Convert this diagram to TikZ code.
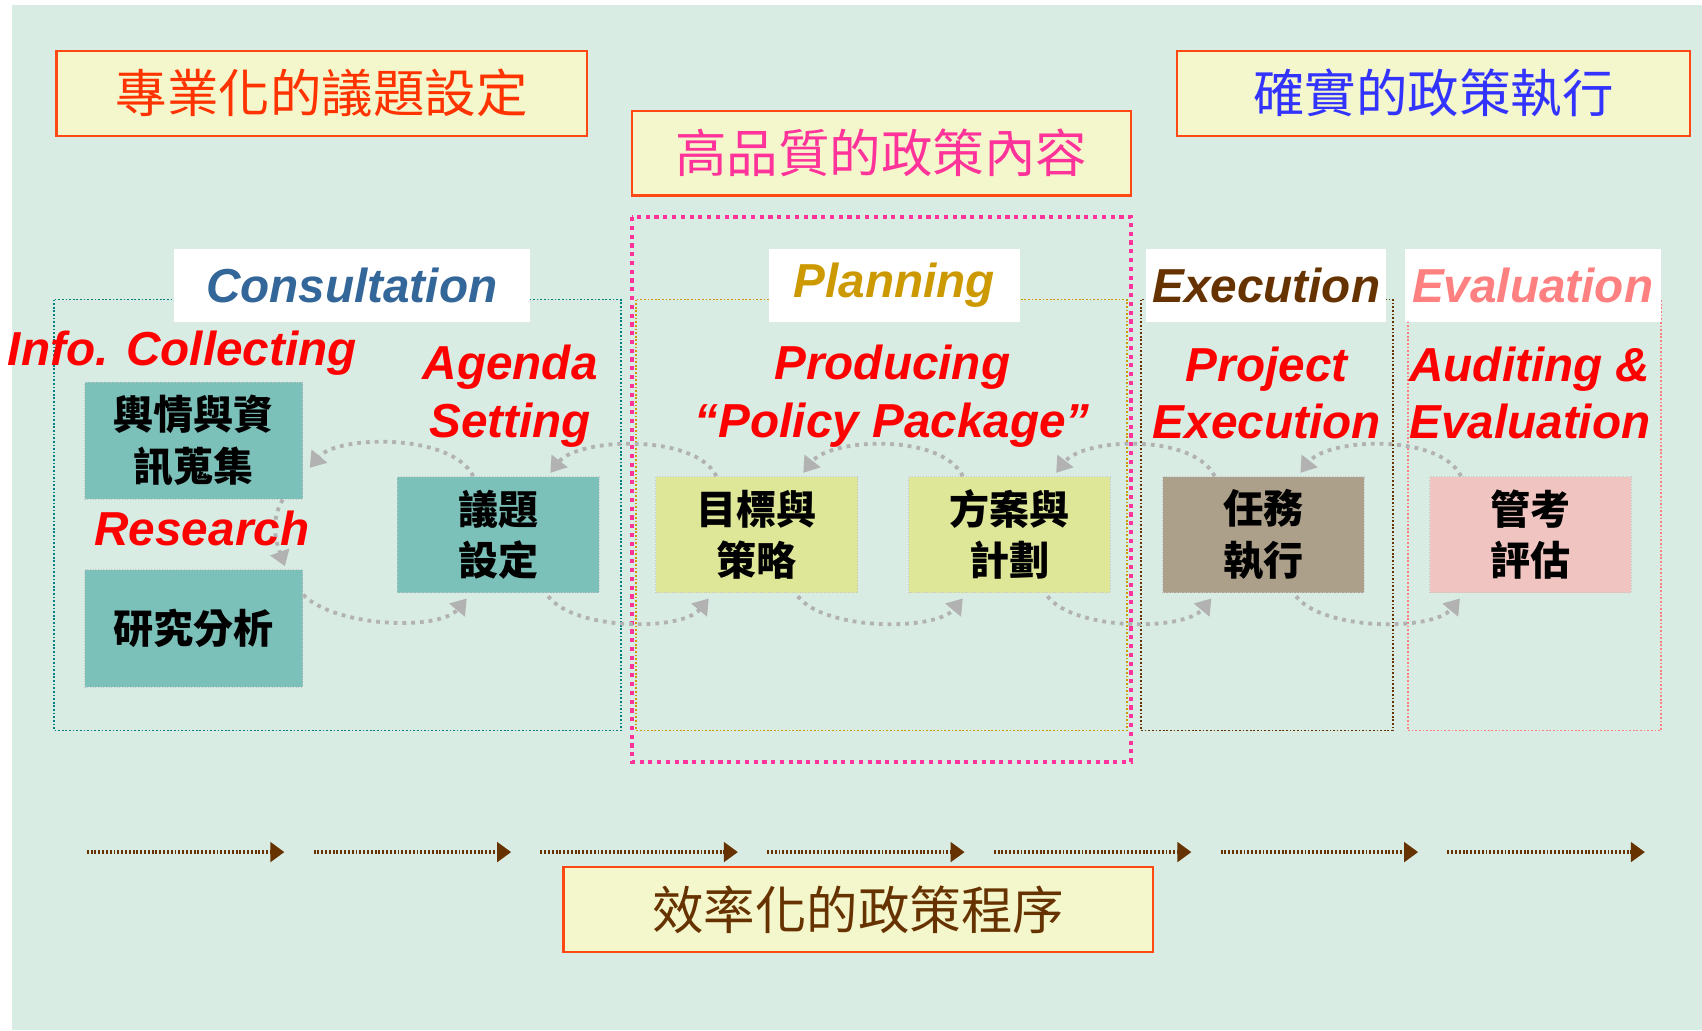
\documentclass[tikz,border=0pt]{standalone}
\usepackage{fontspec}
\setmainfont{Liberation Sans}
\newfontfamily\cjk{Noto Sans CJK TC}
\usetikzlibrary{arrows.meta}

\definecolor{bgmint}{RGB}{216,236,228}
\definecolor{titlefill}{RGB}{244,246,204}
\definecolor{titleline}{RGB}{255,72,20}
\definecolor{tealbox}{RGB}{124,192,186}
\definecolor{yellowbox}{RGB}{222,230,152}
\definecolor{taupebox}{RGB}{172,160,138}
\definecolor{pinkbox}{RGB}{240,196,192}
\definecolor{consblue}{RGB}{51,102,153}
\definecolor{plangold}{RGB}{204,153,0}
\definecolor{execbrown}{RGB}{102,51,0}
\definecolor{evalpink}{RGB}{255,128,128}
\definecolor{hotpink}{RGB}{255,51,153}
\definecolor{frameteal}{RGB}{0,128,128}

\begin{document}
\begin{tikzpicture}[x=0.02cm, y=-0.02cm,
    title/.style={draw=titleline, line width=1.2pt, fill=titlefill, minimum height=1.56cm, inner sep=0pt, font=\cjk\fontsize{27}{30}\selectfont},
    tab/.style={fill=white, minimum height=1.36cm, inner sep=0pt, font=\bfseries\itshape\fontsize{25}{30}\selectfont},
    phase/.style={text=red, font=\bfseries\itshape\fontsize{25}{30}\selectfont, align=center, inner sep=0pt},
    cbox/.style={draw=gray!45, densely dotted, minimum width=3.72cm, minimum height=2.14cm, inner sep=0pt, align=center, font=\cjk\bfseries\fontsize{21}{27}\selectfont},
    frame/.style={densely dotted, line width=0.9pt},
    fb/.style={gray!60, line width=2pt, dash pattern=on 2pt off 2.6pt, -{Triangle[length=0.28cm,width=0.36cm]}},
    flow/.style={execbrown, line width=2.1pt, dash pattern=on 1pt off 1pt, -{Triangle[length=0.26cm,width=0.36cm]}}]
        \useasboundingbox (0,0) rectangle (1568,949);
        \fill[white] (0,0) rectangle (1568,949);
        \fill[bgmint] (11,5) rectangle (1568,949);

        % phase frames
        \draw[frame, frameteal] (50,276) rectangle (572,673);
        \draw[frame, plangold] (586,276) rectangle (1038,673);
        \draw[frame, execbrown] (1051,276) rectangle (1283,673);
        \draw[frame, evalpink] (1297,276) rectangle (1530,673);
        \draw[hotpink, line width=2.2pt, dash pattern=on 2.2pt off 2.4pt] (582,200) rectangle (1042,702);

        % phase tabs
        \node[tab, minimum width=6.56cm, text=consblue] (cons) at (324,263) {Consultation};
        \node[tab, minimum width=4.64cm, text=plangold] (planning) at (824,263) {Planning};
        \node[tab, minimum width=4.42cm, text=execbrown] (execution) at (1166.5,263) {Execution};
        \node[tab, minimum width=4.72cm, text=evalpink] (evaluation) at (1412,263) {Evaluation};

        % titles
        \node[title, minimum width=9.78cm, text={rgb,255:red,255;green,51;blue,0}] (prof) at (296.5,86) {專業化的議題設定};
        \node[title, minimum width=9.2cm, text=hotpink] (quality) at (812,141) {高品質的政策內容};
        \node[title, minimum width=9.46cm, text={rgb,255:red,51;green,51;blue,255}] (firm) at (1320.5,86) {確實的政策執行};
        \node[title, minimum width=10.86cm, text=execbrown] (effic) at (790.5,838) {效率化的政策程序};

        % steps
        \node[cbox, fill=tealbox, minimum width=4.02cm, minimum height=2.16cm] (info) at (178.5,406) {輿情與資\\訊蒐集};
        \node[cbox, fill=tealbox, minimum width=4.02cm, minimum height=2.16cm] (research) at (178.5,579) {研究分析};
        \node[cbox, fill=tealbox] (agenda) at (459,492.5) {議題\\設定};
        \node[cbox, fill=yellowbox] (goal) at (697,492.5) {目標與\\策略};
        \node[cbox, fill=yellowbox] (plan) at (930,492.5) {方案與\\計劃};
        \node[cbox, fill=taupebox] (exec) at (1164,492.5) {任務\\執行};
        \node[cbox, fill=pinkbox] (audit) at (1410,492.5) {管考\\評估};

        % arcs between steps
        \draw[fb] ([xshift=1.64cm]info.south) .. controls +(-12,20) and +(-8,-22) .. ([xshift=1.68cm,yshift=0.06cm]research.north);
        \draw[fb] ([xshift=-0.46cm]agenda.north) .. controls +(-20,-40) and +(25,-30) .. ([xshift=0.12cm,yshift=-0.5cm]info.east);
        \foreach \a/\b/\sa/\sb in {goal/agenda/-0.74/0.96, plan/goal/-0.86/0.86, exec/plan/-0.9/0.86, audit/exec/-1.28/0.68}
            \draw[fb] ([xshift=\sa cm]\a.north) .. controls +(-20,-40) and +(25,-32) .. ([xshift=\sb cm,yshift=0.06cm]\b.north);
        \draw[fb] ([yshift=0.62cm]research.east) .. controls +(30,30) and +(-25,30) .. ([xshift=-0.58cm,yshift=-0.1cm]agenda.south);
        \foreach \a/\b/\sa/\sb in {agenda/goal/0.92/-0.88, goal/plan/0.76/-0.86, plan/exec/0.7/-0.96, exec/audit/0.6/-1.3}
            \draw[fb] ([xshift=\sa cm,yshift=-0.06cm]\a.south) .. controls +(25,32) and +(-25,30) .. ([xshift=\sb cm,yshift=-0.1cm]\b.south);

        % red labels
        \node[phase] (collect) at (168,325) {Info. Collecting};
        \node[phase] (agendalbl) at (470,365) {Agenda\\Setting};
        \node[phase] (researchlbl) at (186,487) {Research};
        \node[phase] (produce) at (822,365) {Producing\\“Policy Package”};
        \node[phase] (project) at (1167,362) {Project\\Execution};
        \node[phase, align=left, anchor=west] (auditlbl) at (1298,362) {Auditing \&\\Evaluation};

        % process arrows
        \foreach \i in {0,...,6} {
            \coordinate (fs\i) at (80+208.9*\i,785);
            \coordinate (fe\i) at (262+208.9*\i,785);
            \draw[flow] (fs\i) -- (fe\i);
        }
\end{tikzpicture}
\end{document}
